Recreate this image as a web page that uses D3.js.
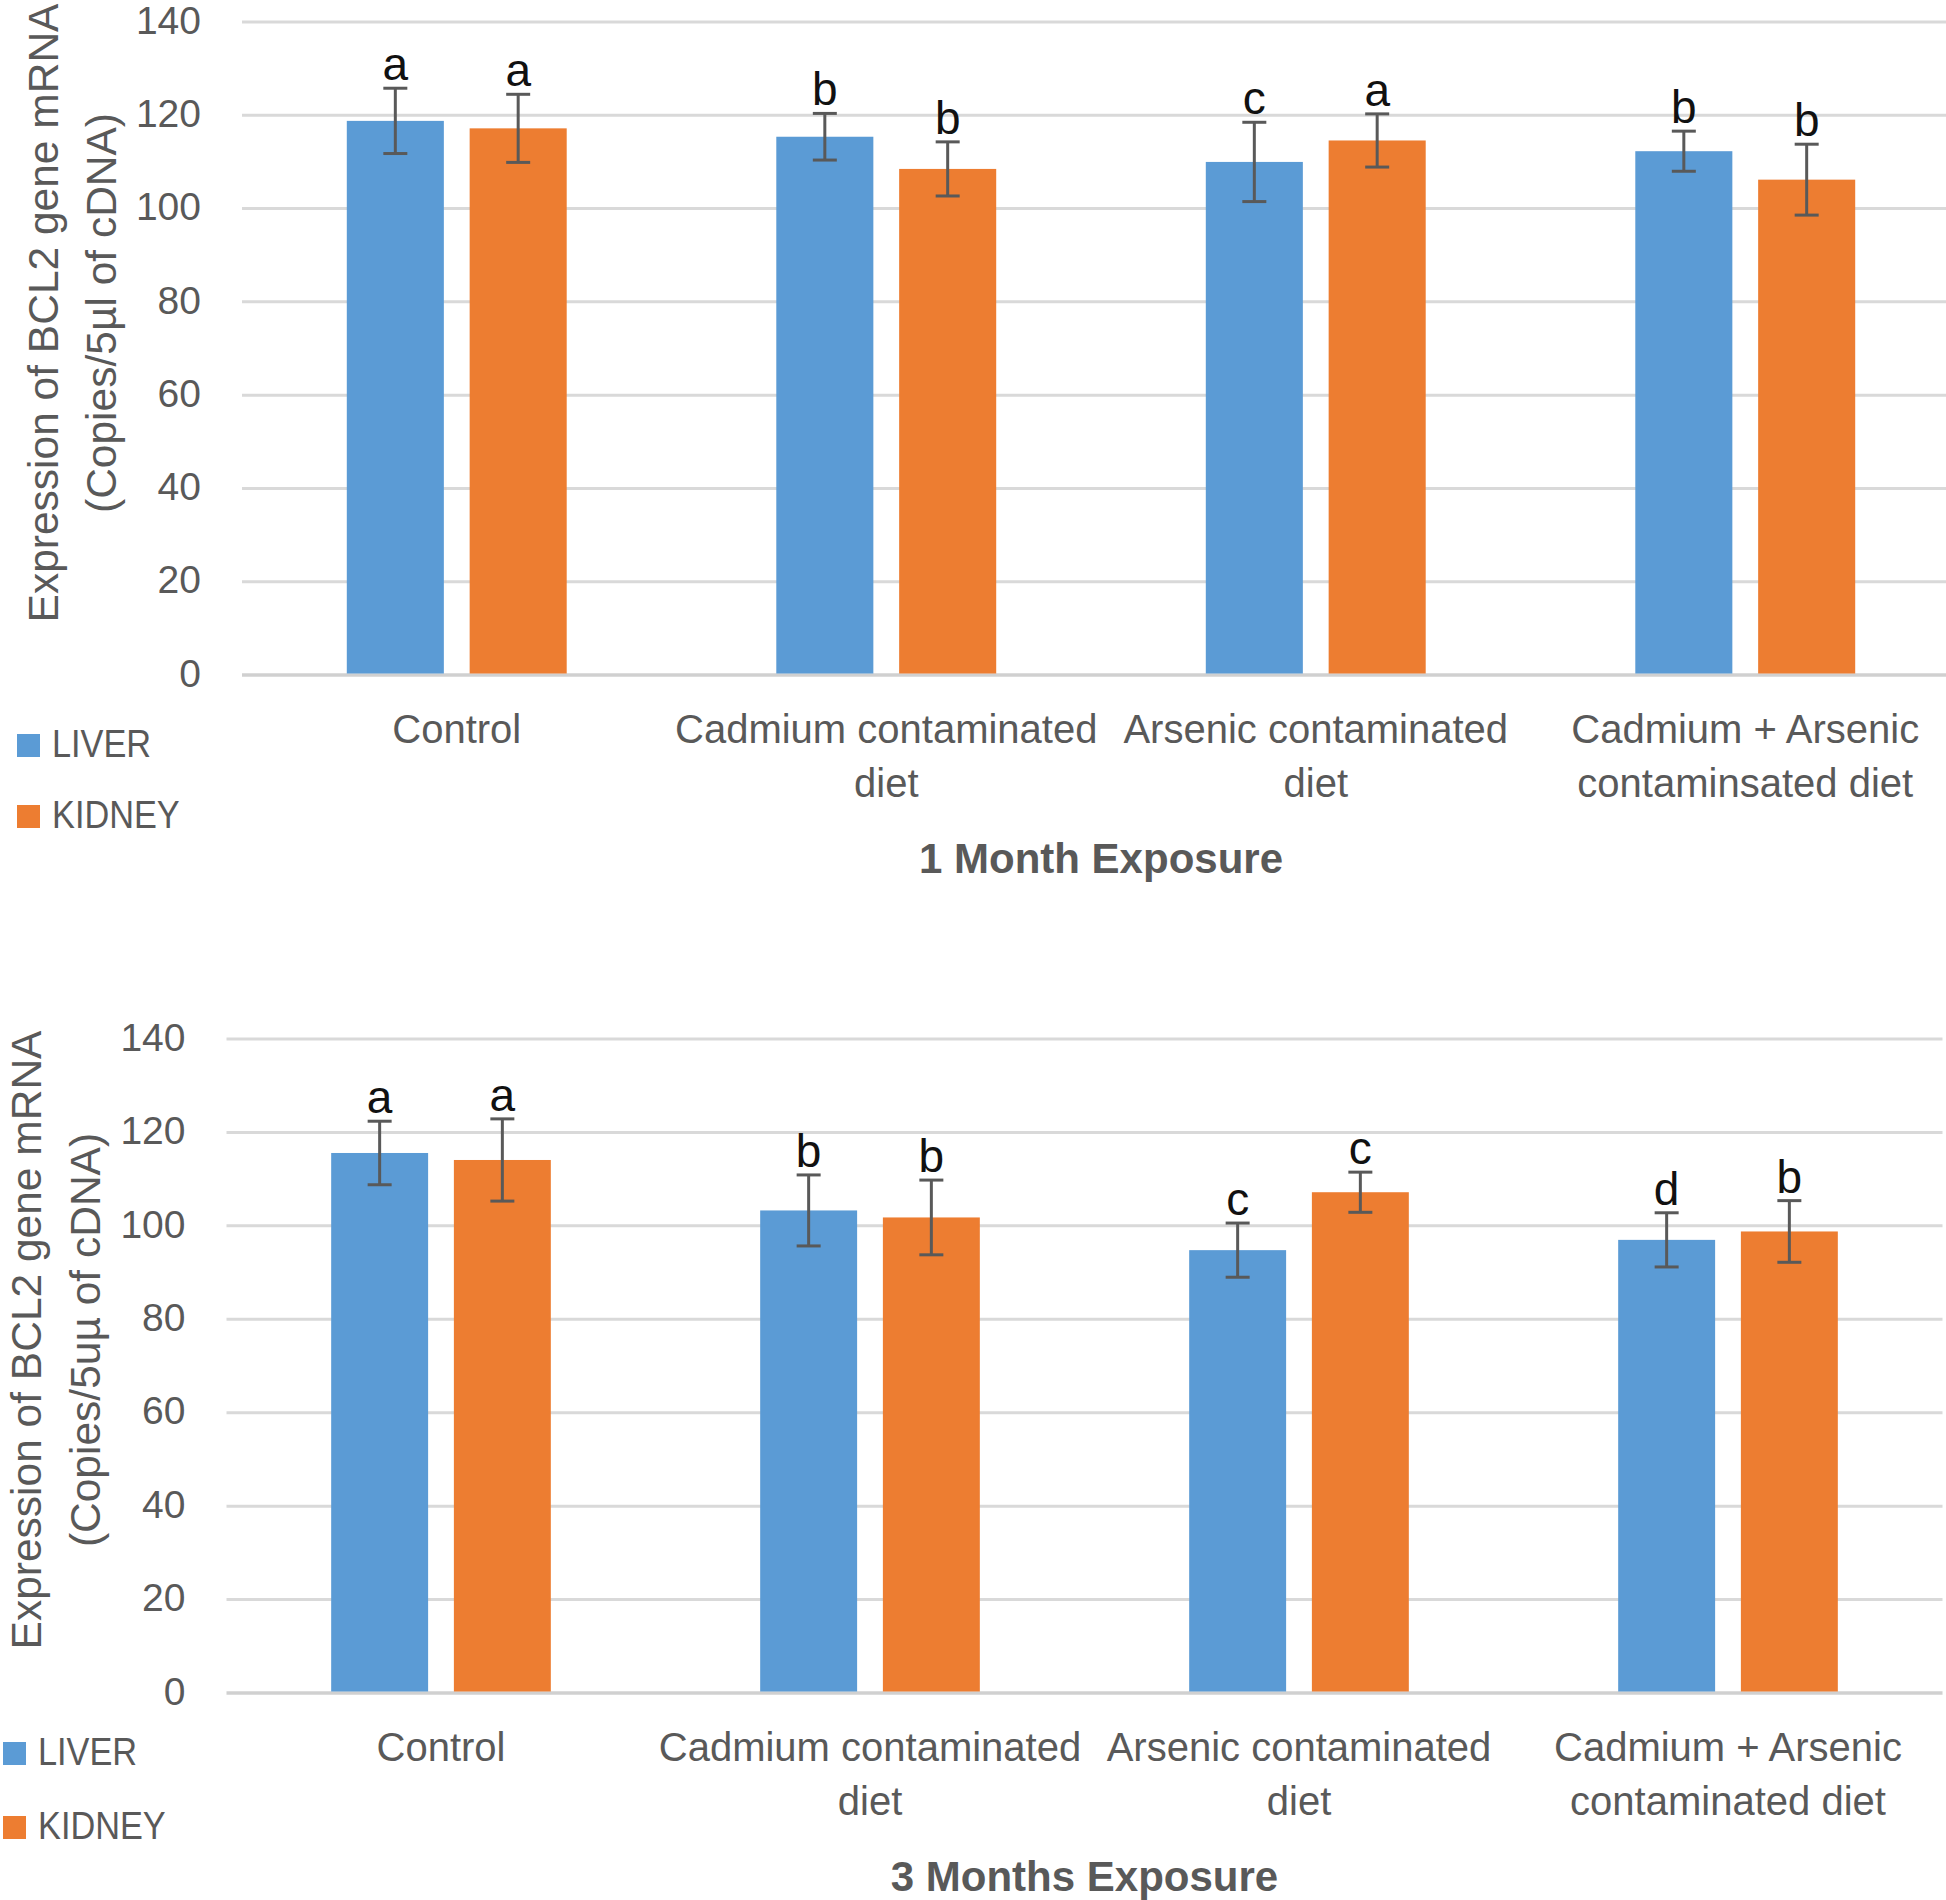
<!DOCTYPE html>
<html lang="en">
<head>
  <meta charset="UTF-8">
  <script src="https://d3js.org/d3.v7.min.js"></script>
  <title>BCL2 expression</title>
  <style>
    body { margin: 0; background: #fff; }
    svg { display: block; font-family: "Liberation Sans", Arial, sans-serif; }
  </style>
</head>
<body>
  <svg width="1946" height="1900"></svg>
  <script>
    // categories (each label split into its lines)
    const categories1 = [["Control"], ["Cadmium contaminated", "diet"], ["Arsenic contaminated", "diet"], ["Cadmium + Arsenic", "contaminsated diet"]];
    const categories3 = [["Control"], ["Cadmium contaminated", "diet"], ["Arsenic contaminated", "diet"], ["Cadmium + Arsenic", "contaminated diet"]];
    const seriesNames = ["LIVER", "KIDNEY"];
    const yTicks = [0, 20, 40, 60, 80, 100, 120, 140];

    // 1 month
    const month1Liver = [118.8, 115.4, 110.0, 112.3];
    const month1LiverErr = [7.0, 5.0, 8.5, 4.3];
    const month1LiverSig = ["a", "b", "c", "b"];
    const month1Kidney = [117.2, 108.5, 114.6, 106.2];
    const month1KidneyErr = [7.3, 5.8, 5.7, 7.6];
    const month1KidneySig = ["a", "b", "a", "b"];

    // 3 months
    const month3Liver = [115.6, 103.3, 94.8, 97.0];
    const month3LiverErr = [6.8, 7.6, 5.8, 5.8];
    const month3LiverSig = ["a", "b", "c", "d"];
    const month3Kidney = [114.1, 101.8, 107.2, 98.8];
    const month3KidneyErr = [8.8, 8.0, 4.3, 6.6];
    const month3KidneySig = ["a", "b", "c", "b"];

    const colors = { LIVER: "#5b9bd5", KIDNEY: "#ed7d31" };
    const textGray = "#595959";

    const svg = d3.select("svg");

    function drawPanel(p) {
      const g = svg.append("g");
      const keys = p.categories.map((c, i) => i);

      const x0 = d3.scaleBand().domain(keys).range([p.left, p.right])
        .paddingInner(0.488).paddingOuter(0.244);
      const x1 = d3.scaleBand().domain(seriesNames).range([0, x0.bandwidth()])
        .paddingInner(0.21);
      const y = d3.scaleLinear().domain([0, 140]).range([p.bottom, p.top]);

      // gridlines
      g.selectAll(".grid").data(yTicks).join("line")
        .attr("x1", p.left).attr("x2", p.right)
        .attr("y1", d => y(d)).attr("y2", d => y(d))
        .attr("stroke", d => d === 0 ? "#d0d0d0" : "#d9d9d9")
        .attr("stroke-width", d => d === 0 ? 3.5 : 3);

      // y tick labels
      g.selectAll(".tick").data(yTicks).join("text")
        .attr("x", p.left - 41).attr("y", d => y(d)).attr("dy", "0.3em")
        .attr("text-anchor", "end")
        .attr("font-size", 39).attr("fill", textGray)
        .text(d => d);

      const rows = [];
      keys.forEach(i => {
        rows.push({ i, s: "LIVER", v: p.liver[i], e: p.liverErr[i], sig: p.liverSig[i] });
        rows.push({ i, s: "KIDNEY", v: p.kidney[i], e: p.kidneyErr[i], sig: p.kidneySig[i] });
      });
      const cx = d => x0(d.i) + x1(d.s) + x1.bandwidth() / 2;

      g.selectAll(".bar").data(rows).join("rect")
        .attr("x", d => x0(d.i) + x1(d.s))
        .attr("width", x1.bandwidth())
        .attr("y", d => y(d.v))
        .attr("height", d => y(0) - y(d.v) - 1.5)
        .attr("fill", d => colors[d.s]);

      // error bars
      const eb = g.selectAll(".err").data(rows).join("g").attr("stroke", "#595959").attr("stroke-width", 3);
      eb.append("line").attr("x1", cx).attr("x2", cx)
        .attr("y1", d => y(d.v + d.e)).attr("y2", d => y(d.v - d.e));
      eb.append("line").attr("x1", d => cx(d) - 12).attr("x2", d => cx(d) + 12)
        .attr("y1", d => y(d.v + d.e)).attr("y2", d => y(d.v + d.e));
      eb.append("line").attr("x1", d => cx(d) - 12).attr("x2", d => cx(d) + 12)
        .attr("y1", d => y(d.v - d.e)).attr("y2", d => y(d.v - d.e));

      // significance letters
      g.selectAll(".sig").data(rows).join("text")
        .attr("x", cx).attr("y", d => y(d.v + d.e) - 8)
        .attr("text-anchor", "middle")
        .attr("font-size", 46).attr("fill", "#111")
        .text(d => d.sig);

      // category labels
      const cat = g.selectAll(".cat").data(p.categories).join("text")
        .attr("text-anchor", "middle")
        .attr("font-size", 40).attr("fill", textGray);
      cat.selectAll("tspan").data((d, i) => d.map(t => ({ t, i }))).join("tspan")
        .attr("x", d => x0(d.i) + x0.bandwidth() / 2)
        .attr("y", (d, j) => p.bottom + 68 + j * 54)
        .text(d => d.t);

      // x title
      g.append("text")
        .attr("x", (p.left + p.right) / 2).attr("y", p.bottom + 198)
        .attr("text-anchor", "middle")
        .attr("font-size", 42).attr("font-weight", "bold").attr("fill", textGray)
        .text(p.xTitle);

      // y title
      p.yTitle.forEach((t, j) => {
        g.append("text")
          .attr("transform", `translate(${p.yTitleX[j]},${p.yTitleY}) rotate(-90)`)
          .attr("text-anchor", "middle")
          .attr("font-size", 42.5).attr("fill", textGray)
          .text(t);
      });

      // legend
      seriesNames.forEach((s, j) => {
        g.append("rect")
          .attr("x", p.legendX).attr("y", p.legendY[j] - 23)
          .attr("width", 23).attr("height", 23)
          .attr("fill", colors[s]);
        g.append("text")
          .attr("transform", `translate(${p.legendX + 35},${p.legendY[j]}) scale(0.88,1)`)
          .attr("font-size", 39).attr("fill", textGray)
          .text(s);
      });
    }

    drawPanel({
      categories: categories1,
      liver: month1Liver, liverErr: month1LiverErr, liverSig: month1LiverSig,
      kidney: month1Kidney, kidneyErr: month1KidneyErr, kidneySig: month1KidneySig,
      top: 22, bottom: 675, left: 242, right: 1960,
      xTitle: "1 Month Exposure",
      yTitle: ["Expression of BCL2 gene mRNA", "(Copies/5µl of cDNA)"],
      yTitleX: [58, 116], yTitleY: 313,
      legendX: 17, legendY: [757, 828]
    });

    drawPanel({
      categories: categories3,
      liver: month3Liver, liverErr: month3LiverErr, liverSig: month3LiverSig,
      kidney: month3Kidney, kidneyErr: month3KidneyErr, kidneySig: month3KidneySig,
      top: 1039, bottom: 1693, left: 226.5, right: 1942.5,
      xTitle: "3 Months Exposure",
      yTitle: ["Expression of BCL2 gene mRNA", "(Copies/5uµ of cDNA)"],
      yTitleX: [41, 100], yTitleY: 1340,
      legendX: 3, legendY: [1765, 1839]
    });
  </script>
</body>
</html>
